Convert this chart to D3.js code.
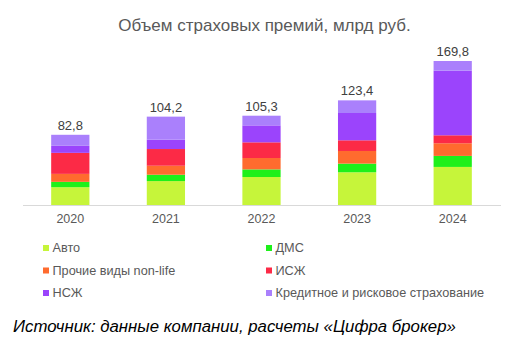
<!DOCTYPE html>
<html><head><meta charset="utf-8">
<script src="https://cdn.jsdelivr.net/npm/d3@7"></script>
<style>body{margin:0;background:#fff;} svg{display:block;font-family:"Liberation Sans",Arial,sans-serif;}</style>
</head><body>
<svg id="c" width="507" height="347"></svg>
<script>
const years = ["2020","2021","2022","2023","2024"];
const totals = [82.8, 104.2, 105.3, 123.4, 169.8];
const totalLabels = ["82,8","104,2","105,3","123,4","169,8"];
const seriesNames = ["Авто","ДМС","Прочие виды non-life","ИСЖ","НСЖ","Кредитное и рисковое страхование"];
const seriesColors = ["#c6f53a","#1ef01a","#ff6b2e","#fc2a46","#9b44fc","#aa80fc"];
const avto = [21.0, 28.2, 33.0, 38.6, 44.9];
const dms = [6.3, 7.5, 9.0, 10.2, 13.0];
const prochie = [9.4, 10.6, 13.4, 14.9, 14.9];
const isj = [24.8, 19.7, 18.5, 12.6, 9.4];
const nsj = [8.3, 11.0, 20.0, 32.2, 76.2];
const kredit = [13.0, 27.2, 11.4, 14.9, 11.4];
const title = "Объем страховых премий, млрд руб.";
const source = "Источник: данные компании, расчеты «Цифра брокер»";

const seriesVals = [avto, dms, prochie, isj, nsj, kredit];
const rows = years.map((y,i)=>{const o={year:y}; seriesNames.forEach((n,k)=>o[n]=seriesVals[k][i]); return o;});
const stack = d3.stack().keys(seriesNames)(rows);

const svg = d3.select("#c");
const x = d3.scaleBand().domain(years).range([22.5,500.5]).paddingInner(0.6).paddingOuter(0.3);
const y = d3.scaleLinear().domain([0,100]).range([205,120.2]);
const color = d3.scaleOrdinal().domain(seriesNames).range(seriesColors);

svg.append("text").attr("x",264.5).attr("y",30.5).attr("text-anchor","middle")
  .attr("font-size",17).attr("fill","#595959").text(title);

svg.append("g").selectAll("g").data(stack).join("g").attr("fill",d=>color(d.key))
  .selectAll("rect").data(d=>d).join("rect")
  .attr("x",d=>x(d.data.year)).attr("width",x.bandwidth())
  .attr("y",d=>y(d[1])).attr("height",d=>y(d[0])-y(d[1]));

svg.append("g").selectAll("text").data(years).join("text")
  .attr("x",d=>x(d)+x.bandwidth()/2).attr("y",(d,i)=>y(totals[i])-5)
  .attr("text-anchor","middle").attr("font-size",13).attr("fill","#404040")
  .text((d,i)=>totalLabels[i]);

const ax = svg.append("g").attr("transform","translate(0,205)")
  .call(d3.axisBottom(x).tickSize(0).tickPadding(9));
ax.select(".domain").attr("stroke","#d9d9d9").attr("stroke-width",1.2);
ax.selectAll("text").attr("font-size",12.5).attr("fill","#595959").attr("font-family","Liberation Sans, Arial, sans-serif");

const lg = svg.append("g");
seriesNames.forEach((n,k)=>{
  const col = k%2, row = Math.floor(k/2);
  const lx = col===0?43:266, ly = 248+row*22.5;
  lg.append("rect").attr("x",lx).attr("y",ly-3).attr("width",6).attr("height",6).attr("fill",seriesColors[k]);
  lg.append("text").attr("x",lx+9.5).attr("y",ly+4.3).attr("font-size",12.7).attr("fill","#595959").text(n);
});

svg.append("text").attr("x",13).attr("y",332).attr("font-size",16.8).attr("font-style","italic")
  .attr("fill","#000").text(source);
</script>
</body></html>
